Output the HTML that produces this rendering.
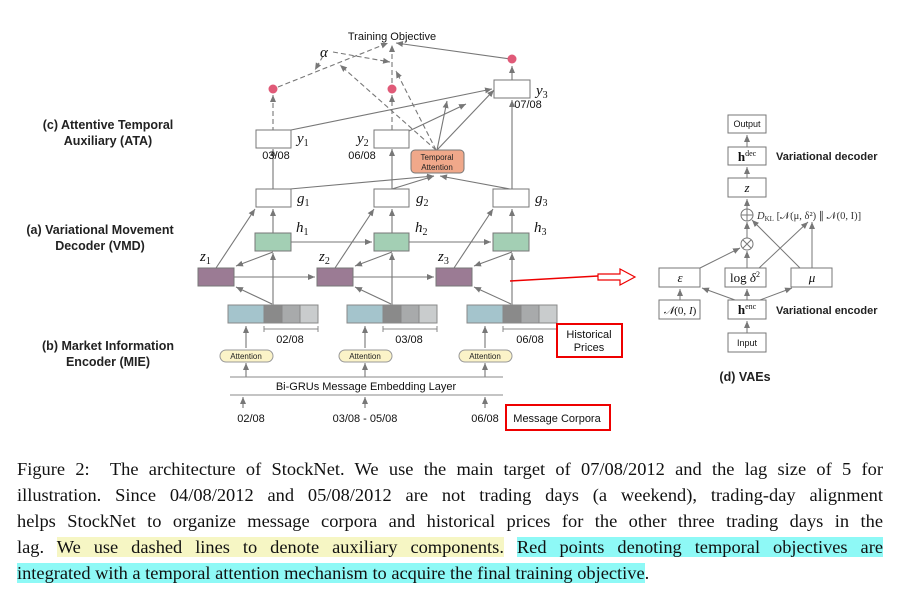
<!DOCTYPE html>
<html><head><meta charset="utf-8"><style>
body{margin:0;background:#fff;width:900px;height:593px;overflow:hidden;position:relative}
svg{position:absolute;left:0;top:0}
.cap{position:absolute;left:17px;width:866px;font-family:"Liberation Serif",serif;font-size:18.4px;color:#111;text-align:justify;text-align-last:justify;white-space:nowrap;line-height:20px}
.y{background:#f6f6c4}.c{background:#8ef9f6}
</style></head><body>
<svg width="900" height="593" viewBox="0 0 900 593" font-family="Liberation Sans, sans-serif">
<defs><marker id="a" markerWidth="8" markerHeight="8" refX="7" refY="4" orient="auto" markerUnits="userSpaceOnUse"><path d="M0,1 L7,4 L0,7 z" fill="#777"/></marker></defs>
<g stroke="#777" stroke-width="1.1" fill="none" marker-end="url(#a)">
<g stroke-dasharray="5,3">
<line x1="273" y1="140" x2="273" y2="95"/>
<line x1="392" y1="130" x2="392" y2="95"/>
<line x1="278" y1="87" x2="388" y2="43"/>
<line x1="392" y1="83" x2="392" y2="45"/>
<line x1="333" y1="52" x2="390" y2="62"/>
<line x1="323" y1="56" x2="315" y2="70"/>
<line x1="436" y1="150" x2="340" y2="65"/>
<line x1="436" y1="150" x2="396" y2="71"/>
</g>
<line x1="510" y1="59" x2="396" y2="43"/>
<line x1="512" y1="80" x2="512" y2="66"/>
<line x1="291" y1="130" x2="492" y2="89"/>
<line x1="409" y1="131" x2="466" y2="104"/>
<line x1="437" y1="150" x2="447" y2="101"/>
<line x1="437" y1="150" x2="494" y2="90"/>
<line x1="512" y1="189" x2="512" y2="100"/>
<line x1="273" y1="189" x2="273" y2="149"/>
<line x1="392" y1="189" x2="392" y2="149"/>
<line x1="290" y1="189" x2="434" y2="176"/>
<line x1="392" y1="189" x2="434" y2="176"/>
<line x1="510" y1="189" x2="440" y2="176"/>
<line x1="216" y1="268" x2="255" y2="209"/>
<line x1="273" y1="233" x2="273" y2="209"/>
<line x1="335" y1="268" x2="374" y2="209"/>
<line x1="392" y1="233" x2="392" y2="209"/>
<line x1="454" y1="268" x2="493" y2="209"/>
<line x1="512" y1="233" x2="512" y2="209"/>
<line x1="291" y1="242" x2="372" y2="242"/>
<line x1="409" y1="242" x2="491" y2="242"/>
<line x1="273" y1="305" x2="273" y2="253"/>
<line x1="392" y1="305" x2="392" y2="253"/>
<line x1="512" y1="305" x2="512" y2="253"/>
<line x1="273" y1="252" x2="236" y2="266"/>
<line x1="392" y1="252" x2="355" y2="266"/>
<line x1="512" y1="252" x2="474" y2="266"/>
<line x1="234" y1="277" x2="315" y2="277"/>
<line x1="353" y1="277" x2="434" y2="277"/>
<line x1="272" y1="304" x2="236" y2="287"/>
<line x1="391" y1="304" x2="355" y2="287"/>
<line x1="511" y1="304" x2="474" y2="287"/>
<line x1="246" y1="348" x2="246" y2="326"/>
<line x1="365" y1="348" x2="365" y2="326"/>
<line x1="485" y1="348" x2="485" y2="326"/>
<line x1="246" y1="377" x2="246" y2="363"/>
<line x1="365" y1="377" x2="365" y2="363"/>
<line x1="485" y1="377" x2="485" y2="363"/>
<line x1="243" y1="408" x2="243" y2="397"/>
<line x1="365" y1="408" x2="365" y2="397"/>
<line x1="485" y1="408" x2="485" y2="397"/>
</g>
<g fill="#e05a78"><circle cx="273" cy="89" r="4.5"/><circle cx="392" cy="89" r="4.5"/><circle cx="512" cy="59" r="4.5"/></g>
<g stroke="#777" fill="#fff" stroke-width="1">
<rect x="494" y="80" width="36" height="18"/><rect x="256" y="130" width="35" height="18"/><rect x="374" y="130" width="35" height="18"/>
<rect x="256" y="189" width="35" height="18"/><rect x="374" y="189" width="35" height="18"/><rect x="493" y="189" width="36" height="18"/>
<rect x="411" y="150" width="53" height="23" rx="4" fill="#f0a88a"/>
<g fill="#a3cfb4"><rect x="255" y="233" width="36" height="18"/><rect x="374" y="233" width="35" height="18"/><rect x="493" y="233" width="36" height="18"/></g>
<g fill="#9b7b94"><rect x="198" y="268" width="36" height="18"/><rect x="317" y="268" width="36" height="18"/><rect x="436" y="268" width="36" height="18"/></g>
</g>
<g stroke="#888" stroke-width="1">
<g><rect x="228" y="305" width="36" height="18" fill="#a4c4cc"/><rect x="264" y="305" width="18" height="18" fill="#8a8a8a"/><rect x="282" y="305" width="18" height="18" fill="#a8aaab"/><rect x="300" y="305" width="18" height="18" fill="#c9cccd"/></g>
<g transform="translate(119,0)"><rect x="228" y="305" width="36" height="18" fill="#a4c4cc"/><rect x="264" y="305" width="18" height="18" fill="#8a8a8a"/><rect x="282" y="305" width="18" height="18" fill="#a8aaab"/><rect x="300" y="305" width="18" height="18" fill="#c9cccd"/></g>
<g transform="translate(239,0)"><rect x="228" y="305" width="36" height="18" fill="#a4c4cc"/><rect x="264" y="305" width="18" height="18" fill="#8a8a8a"/><rect x="282" y="305" width="18" height="18" fill="#a8aaab"/><rect x="300" y="305" width="18" height="18" fill="#c9cccd"/></g>
<path d="M264,326v6M264,329h54M318,326v6M383,326v6M383,329h54M437,326v6M503,326v6M503,329h54M557,326v6" fill="none"/>
<line x1="230" y1="377" x2="503" y2="377"/><line x1="230" y1="395" x2="503" y2="395"/>
</g>
<g fill="#fbf3c8" stroke="#999"><rect x="220" y="350" width="53" height="12" rx="6"/><rect x="339" y="350" width="53" height="12" rx="6"/><rect x="459" y="350" width="53" height="12" rx="6"/></g>
<g font-size="8" text-anchor="middle" fill="#222"><text x="246" y="359">Attention</text><text x="365" y="359">Attention</text><text x="485" y="359">Attention</text><text x="437" y="160">Temporal</text><text x="437" y="170">Attention</text></g>
<g fill="none" stroke="#e00" stroke-width="2"><rect x="557" y="324" width="65" height="33"/><rect x="506" y="405" width="104" height="25"/></g>
<line x1="510" y1="281" x2="598" y2="276" stroke="#e00" stroke-width="1.5"/>
<path d="M598,274h22v-5l15,8-15,8v-5h-22z" fill="#fff" stroke="#e00" stroke-width="1.2"/>
<g font-size="11" fill="#111" text-anchor="middle">
<text x="392" y="40">Training Objective</text>
<text x="528" y="108">07/08</text><text x="276" y="159">03/08</text><text x="362" y="159">06/08</text>
<text x="290" y="343">02/08</text><text x="409" y="343">03/08</text><text x="530" y="343">06/08</text>
<text x="589" y="338">Historical</text><text x="589" y="351">Prices</text>
<text x="366" y="390">Bi-GRUs Message Embedding Layer</text>
<text x="251" y="422">02/08</text><text x="365" y="422">03/08 - 05/08</text><text x="485" y="422">06/08</text>
<text x="557" y="422">Message Corpora</text>
</g>
<g font-family="Liberation Serif, serif" font-style="italic" font-size="15" fill="#111">
<text x="320" y="57">α</text>
<text x="536" y="95">y<tspan font-size="10" dy="3" font-style="normal">3</tspan></text>
<text x="297" y="143">y<tspan font-size="10" dy="3" font-style="normal">1</tspan></text>
<text x="357" y="143">y<tspan font-size="10" dy="3" font-style="normal">2</tspan></text>
<text x="297" y="203">g<tspan font-size="10" dy="3" font-style="normal">1</tspan></text>
<text x="416" y="203">g<tspan font-size="10" dy="3" font-style="normal">2</tspan></text>
<text x="535" y="203">g<tspan font-size="10" dy="3" font-style="normal">3</tspan></text>
<text x="296" y="232">h<tspan font-size="10" dy="3" font-style="normal">1</tspan></text>
<text x="415" y="232">h<tspan font-size="10" dy="3" font-style="normal">2</tspan></text>
<text x="534" y="232">h<tspan font-size="10" dy="3" font-style="normal">3</tspan></text>
<text x="200" y="261">z<tspan font-size="10" dy="3" font-style="normal">1</tspan></text>
<text x="319" y="261">z<tspan font-size="10" dy="3" font-style="normal">2</tspan></text>
<text x="438" y="261">z<tspan font-size="10" dy="3" font-style="normal">3</tspan></text>
</g>
<g font-size="12.5" font-weight="bold" fill="#222" text-anchor="middle">
<text x="108" y="129">(c) Attentive Temporal</text><text x="108" y="145">Auxiliary (ATA)</text>
<text x="100" y="234">(a) Variational Movement</text><text x="100" y="250">Decoder (VMD)</text>
<text x="108" y="350">(b) Market Information</text><text x="108" y="366">Encoder (MIE)</text>
</g>
<g stroke="#777" fill="none" stroke-width="1" marker-end="url(#a)">
<line x1="747" y1="147" x2="747" y2="135"/><line x1="747" y1="178" x2="747" y2="167"/>
<line x1="747" y1="209" x2="747" y2="199"/><line x1="747" y1="238" x2="747" y2="222"/>
<line x1="747" y1="268" x2="747" y2="251"/><line x1="700" y1="268" x2="740" y2="248"/>
<line x1="758" y1="269" x2="808" y2="222"/><line x1="800" y1="268" x2="752" y2="220"/>
<line x1="812" y1="268" x2="812" y2="222"/>
<line x1="747" y1="300" x2="747" y2="289"/><line x1="735" y1="300" x2="702" y2="288"/><line x1="760" y1="300" x2="792" y2="288"/>
<line x1="680" y1="300" x2="680" y2="289"/><line x1="747" y1="333" x2="747" y2="321"/>
</g>
<g stroke="#777" fill="#fff"><rect x="728" y="115" width="38" height="18"/><rect x="728" y="147" width="38" height="18"/><rect x="728" y="178" width="38" height="19"/>
<rect x="659" y="268" width="41" height="19"/><rect x="725" y="268" width="41" height="19"/><rect x="791" y="268" width="41" height="19"/>
<rect x="659" y="300" width="41" height="19"/><rect x="728" y="300" width="38" height="19"/><rect x="728" y="333" width="38" height="19"/>
<circle cx="747" cy="215" r="6"/><circle cx="747" cy="244" r="6"/></g>
<path d="M741,215h12M747,209v12M743,240l8,8M751,240l-8,8" stroke="#777"/>
<g font-size="9" text-anchor="middle" fill="#111"><text x="747" y="127">Output</text><text x="747" y="346">Input</text></g>
<g font-family="Liberation Serif, serif" font-size="13" text-anchor="middle" fill="#111">
<text x="747" y="161" font-weight="bold">h<tspan font-size="8" dy="-5" font-weight="normal">dec</tspan></text>
<text x="747" y="192" font-style="italic">z</text><text x="680" y="282" font-style="italic">ε</text>
<text x="745" y="282">log <tspan font-style="italic">δ</tspan><tspan font-size="8" dy="-5">2</tspan></text>
<text x="812" y="282" font-style="italic">μ</text>
<text x="680" y="314" font-size="11"><tspan font-style="italic">𝒩</tspan>(0, <tspan font-style="italic">I</tspan>)</text>
<text x="747" y="314" font-weight="bold">h<tspan font-size="8" dy="-5" font-weight="normal">enc</tspan></text>
<text x="757" y="219" text-anchor="start" font-size="10.5" fill="#333"><tspan font-style="italic">D</tspan><tspan font-size="7" dy="2">KL</tspan><tspan dy="-2"> [𝒩(μ, δ²) ∥ 𝒩(0, I)]</tspan></text>
</g>
<g font-size="11" font-weight="bold" fill="#222"><text x="776" y="160">Variational decoder</text><text x="776" y="314">Variational encoder</text></g>
<text x="745" y="381" font-size="12.5" font-weight="bold" fill="#222" text-anchor="middle">(d) VAEs</text>
</svg>
<div class="cap" style="top:459px">Figure 2:&nbsp; The architecture of StockNet. We use the main target of 07/08/2012 and the lag size of 5 for</div>
<div class="cap" style="top:485px">illustration. Since 04/08/2012 and 05/08/2012 are not trading days (a weekend), trading-day alignment</div>
<div class="cap" style="top:511px">helps StockNet to organize message corpora and historical prices for the other three trading days in the</div>
<div class="cap" style="top:537px">lag. <span class="y">We use dashed lines to denote auxiliary components.</span> <span class="c">Red points denoting temporal objectives are</span></div>
<div class="cap" style="top:563px;text-align-last:left"><span class="c">integrated with a temporal attention mechanism to acquire the final training objective</span>.</div>
</body></html>
